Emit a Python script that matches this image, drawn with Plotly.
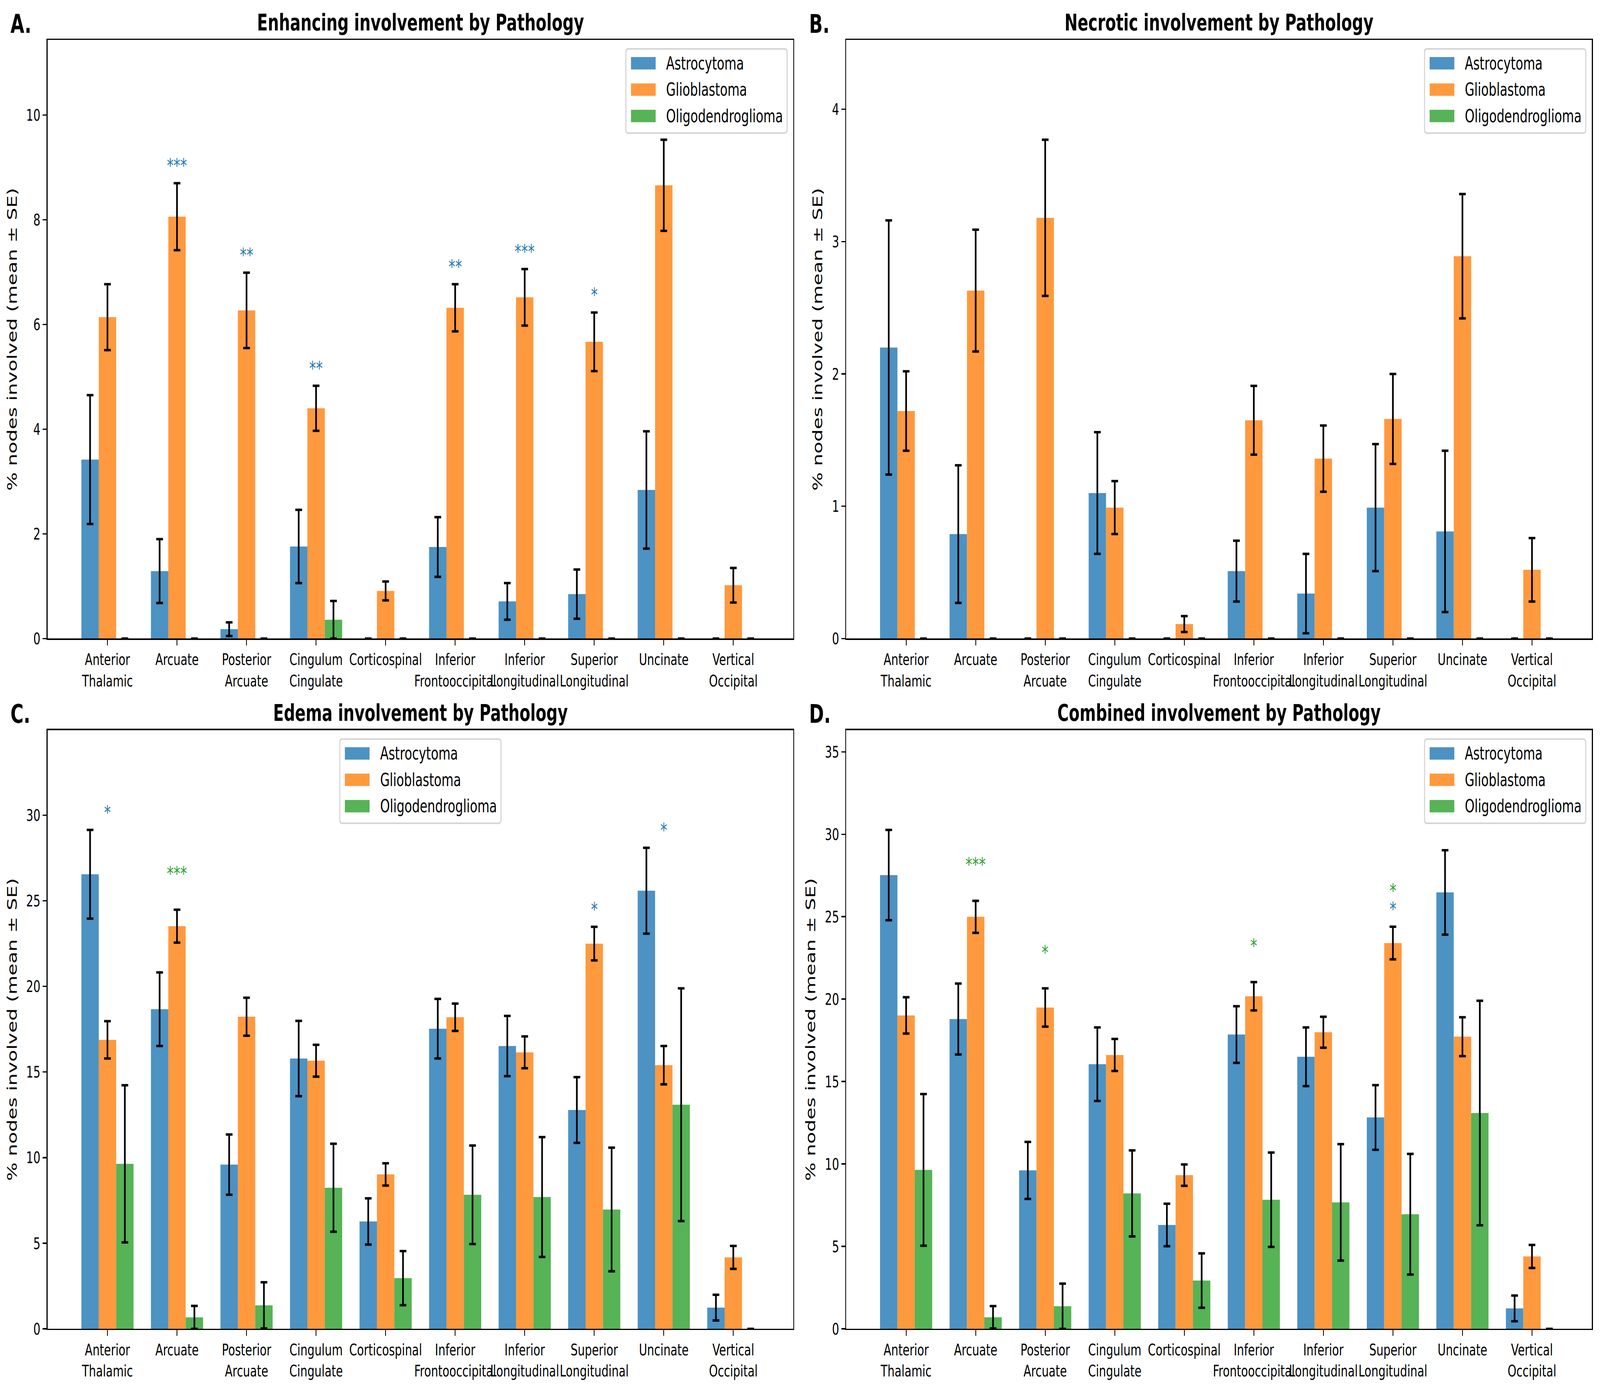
import plotly.graph_objects as go

# ---------------- data ----------------
categories = ["Anterior Thalamic", "Arcuate", "Posterior Arcuate", "Cingulum Cingulate",
              "Corticospinal", "Inferior Frontooccipital", "Inferior Longitudinal",
              "Superior Longitudinal", "Uncinate", "Vertical Occipital"]
tick_labels = ["Anterior<br>Thalamic", "Arcuate", "Posterior<br>Arcuate", "Cingulum<br>Cingulate",
               "Corticospinal", "Inferior<br>Frontooccipital", "Inferior<br>Longitudinal",
               "Superior<br>Longitudinal", "Uncinate", "Vertical<br>Occipital"]
groups = ["Astrocytoma", "Glioblastoma", "Oligodendroglioma"]

# Enhancing
enh_astro_mean = [3.42, 1.29, 0.18, 1.76, 0.0, 1.75, 0.71, 0.85, 2.84, 0.0]
enh_astro_se = [1.23, 0.61, 0.13, 0.70, 0.0, 0.57, 0.35, 0.47, 1.12, 0.0]
enh_glio_mean = [6.14, 8.06, 6.27, 4.40, 0.91, 6.32, 6.52, 5.67, 8.66, 1.02]
enh_glio_se = [0.63, 0.64, 0.72, 0.43, 0.18, 0.45, 0.54, 0.56, 0.87, 0.33]
enh_oligo_mean = [0.0, 0.0, 0.0, 0.36, 0.0, 0.0, 0.0, 0.0, 0.0, 0.0]
enh_oligo_se = [0.0, 0.0, 0.0, 0.36, 0.0, 0.0, 0.0, 0.0, 0.0, 0.0]
enh_sig_astro = ["", "***", "**", "**", "", "**", "***", "*", "", ""]
enh_sig_oligo = ["", "", "", "", "", "", "", "", "", ""]

# Necrotic
nec_astro_mean = [2.20, 0.79, 0.0, 1.10, 0.0, 0.51, 0.34, 0.99, 0.81, 0.0]
nec_astro_se = [0.96, 0.52, 0.0, 0.46, 0.0, 0.23, 0.30, 0.48, 0.61, 0.0]
nec_glio_mean = [1.72, 2.63, 3.18, 0.99, 0.11, 1.65, 1.36, 1.66, 2.89, 0.52]
nec_glio_se = [0.30, 0.46, 0.59, 0.20, 0.06, 0.26, 0.25, 0.34, 0.47, 0.24]
nec_oligo_mean = [0.0, 0.0, 0.0, 0.0, 0.0, 0.0, 0.0, 0.0, 0.0, 0.0]
nec_oligo_se = [0.0, 0.0, 0.0, 0.0, 0.0, 0.0, 0.0, 0.0, 0.0, 0.0]
nec_sig_astro = ["", "", "", "", "", "", "", "", "", ""]
nec_sig_oligo = ["", "", "", "", "", "", "", "", "", ""]

# Edema
ede_astro_mean = [26.55, 18.67, 9.59, 15.79, 6.27, 17.53, 16.52, 12.78, 25.59, 1.24]
ede_astro_se = [2.59, 2.15, 1.76, 2.20, 1.35, 1.74, 1.76, 1.92, 2.51, 0.75]
ede_glio_mean = [16.88, 23.52, 18.23, 15.66, 9.02, 18.20, 16.15, 22.50, 15.40, 4.17]
ede_glio_se = [1.09, 0.96, 1.11, 0.93, 0.65, 0.80, 0.93, 0.98, 1.12, 0.67]
ede_oligo_mean = [9.64, 0.67, 1.37, 8.24, 2.96, 7.83, 7.70, 6.97, 13.09, 0.0]
ede_oligo_se = [4.59, 0.67, 1.35, 2.57, 1.58, 2.88, 3.50, 3.61, 6.80, 0.0]
ede_sig_astro = ["*", "", "", "", "", "", "", "*", "*", ""]
ede_sig_oligo = ["", "***", "", "", "", "", "", "", "", ""]

# Combined
com_astro_mean = [27.52, 18.79, 9.61, 16.05, 6.30, 17.85, 16.50, 12.82, 26.47, 1.24]
com_astro_se = [2.74, 2.15, 1.73, 2.23, 1.29, 1.72, 1.78, 1.96, 2.56, 0.78]
com_glio_mean = [19.01, 24.99, 19.49, 16.61, 9.32, 20.17, 17.99, 23.40, 17.72, 4.39]
com_glio_se = [1.10, 0.97, 1.16, 0.97, 0.65, 0.86, 0.94, 0.99, 1.18, 0.70]
com_oligo_mean = [9.64, 0.70, 1.37, 8.21, 2.93, 7.83, 7.67, 6.95, 13.09, 0.0]
com_oligo_se = [4.60, 0.68, 1.37, 2.61, 1.65, 2.86, 3.53, 3.66, 6.81, 0.0]
com_sig_astro = ["", "", "", "", "", "", "", "*", "", ""]
com_sig_oligo = ["", "***", "*", "", "", "*", "", "*", "", ""]

# ---------------- style / layout ----------------
W, H = 5964, 3573
PT = 300 / 72.0
FONT = "DejaVu Sans"
bar_colors = ["rgba(31,119,180,0.8)", "rgba(255,127,14,0.8)", "rgba(44,160,44,0.8)"]
sig_colors = {"astro": "#1f77b4", "oligo": "#2ca02c"}

panels = [
    dict(letter="A.", title="Enhancing involvement by Pathology",
         means=[enh_astro_mean, enh_glio_mean, enh_oligo_mean],
         ses=[enh_astro_se, enh_glio_se, enh_oligo_se],
         sig_astro=enh_sig_astro, sig_oligo=enh_sig_oligo, dtick=2,
         box=(177, 103, 2957, 1646), legend="right"),
    dict(letter="B.", title="Necrotic involvement by Pathology",
         means=[nec_astro_mean, nec_glio_mean, nec_oligo_mean],
         ses=[nec_astro_se, nec_glio_se, nec_oligo_se],
         sig_astro=nec_sig_astro, sig_oligo=nec_sig_oligo, dtick=1,
         box=(3154, 103, 5934, 1646), legend="right"),
    dict(letter="C.", title="Edema involvement by Pathology",
         means=[ede_astro_mean, ede_glio_mean, ede_oligo_mean],
         ses=[ede_astro_se, ede_glio_se, ede_oligo_se],
         sig_astro=ede_sig_astro, sig_oligo=ede_sig_oligo, dtick=5,
         box=(177, 1882, 2957, 3425), legend="center"),
    dict(letter="D.", title="Combined involvement by Pathology",
         means=[com_astro_mean, com_glio_mean, com_oligo_mean],
         ses=[com_astro_se, com_glio_se, com_oligo_se],
         sig_astro=com_sig_astro, sig_oligo=com_sig_oligo, dtick=5,
         box=(3154, 1882, 5934, 3425), legend="right"),
]


def px_x(p):
    return p / W


def px_y(p):
    return 1 - p / H


fig = go.Figure()
layout = dict(
    width=W, height=H, margin=dict(l=0, r=0, t=0, b=0, pad=0),
    paper_bgcolor="white", plot_bgcolor="white",
    font=dict(family=FONT, color="black", size=10 * PT),
    barmode="group", bargap=0.25, bargroupgap=0.0, showlegend=False,
)
annotations = []
shapes = []

n = len(categories)
xrange_ = [-0.375 - 0.05 * (n - 1 + 0.75), n - 1 + 0.375 + 0.05 * (n - 1 + 0.75)]

for i, p in enumerate(panels, start=1):
    xa = "x" if i == 1 else f"x{i}"
    ya = "y" if i == 1 else f"y{i}"
    x0, y0, x1, y1 = p["box"]
    tops = [m + s for mm, ss in zip(p["means"], p["ses"]) for m, s in zip(mm, ss)]
    ymax = max(tops) * 1.2

    for g, name in enumerate(groups):
        fig.add_trace(go.Bar(
            x=categories, y=p["means"][g], name=name,
            marker=dict(color=bar_colors[g], line=dict(width=0)),
            error_y=dict(type="data", array=p["ses"][g], visible=True,
                         color="black", thickness=1.5 * PT, width=3 * PT),
            xaxis=xa, yaxis=ya, showlegend=False,
        ))

    axis_common = dict(showline=True, linecolor="black", linewidth=0.8 * PT, mirror=True,
                       ticks="outside", ticklen=3.5 * PT, tickwidth=0.8 * PT, tickcolor="black",
                       showgrid=False, zeroline=False, fixedrange=True,
                       tickfont=dict(family=FONT, size=10 * PT, color="black"))
    layout["xaxis" if i == 1 else f"xaxis{i}"] = dict(
        axis_common, domain=[px_x(x0), px_x(x1)], anchor=ya, type="category",
        categoryorder="array", categoryarray=categories,
        tickmode="array", tickvals=categories, ticktext=tick_labels, tickangle=0,
        range=xrange_)
    layout["yaxis" if i == 1 else f"yaxis{i}"] = dict(
        axis_common, domain=[px_y(y1), px_y(y0)], anchor=xa,
        range=[0, ymax], tick0=0, dtick=p["dtick"],
        title=dict(text="% nodes involved (mean ± SE)",
                   font=dict(family=FONT, size=12 * PT, color="black"), standoff=20))

    # title
    annotations.append(dict(text="<b>" + p["title"] + "</b>", xref="paper", yref="paper",
                            x=px_x((x0 + x1) / 2), y=px_y(y0 - 8), xanchor="center",
                            yanchor="bottom", showarrow=False,
                            font=dict(family=FONT, size=14 * PT, color="black")))
    # panel letter
    aw = x1 - x0
    annotations.append(dict(text="<b>" + p["letter"] + "</b>", xref="paper", yref="paper",
                            x=px_x(x0 - 0.05 * aw - 1), y=px_y(y0 - 83), xanchor="left",
                            yanchor="top", showarrow=False,
                            font=dict(family=FONT, size=16 * PT, color="black")))

    # significance markers
    for k, cat in enumerate(categories):
        top = max(p["means"][g][k] + p["ses"][g][k] for g in range(3))
        if p["sig_astro"][k]:
            annotations.append(dict(text=p["sig_astro"][k], xref=xa, yref=ya, x=cat,
                                    y=top + 0.037 * ymax, xanchor="center", yanchor="middle",
                                    yshift=-12, showarrow=False,
                                    font=dict(family=FONT, size=12 * PT, color=sig_colors["astro"])))
        if p["sig_oligo"][k]:
            annotations.append(dict(text=p["sig_oligo"][k], xref=xa, yref=ya, x=cat,
                                    y=top + 0.068 * ymax, xanchor="center", yanchor="middle",
                                    yshift=-12, showarrow=False,
                                    font=dict(family=FONT, size=12 * PT, color=sig_colors["oligo"])))

    # legend (matplotlib-style box)
    lw_, lh_ = 601, 217
    if p["legend"] == "right":
        lx1 = x1 - 23
        lx0 = lx1 - lw_
    else:
        lx0 = (x0 + x1) / 2 - lw_ / 2
        lx1 = lx0 + lw_
    ly0 = y0 + 23
    ly1 = ly0 + lh_
    r = 9
    pts = (f"M {px_x(lx0 + r)},{px_y(ly0)} L {px_x(lx1 - r)},{px_y(ly0)} "
           f"Q {px_x(lx1)},{px_y(ly0)} {px_x(lx1)},{px_y(ly0 + r)} "
           f"L {px_x(lx1)},{px_y(ly1 - r)} Q {px_x(lx1)},{px_y(ly1)} {px_x(lx1 - r)},{px_y(ly1)} "
           f"L {px_x(lx0 + r)},{px_y(ly1)} Q {px_x(lx0)},{px_y(ly1)} {px_x(lx0)},{px_y(ly1 - r)} "
           f"L {px_x(lx0)},{px_y(ly0 + r)} Q {px_x(lx0)},{px_y(ly0)} {px_x(lx0 + r)},{px_y(ly0)} Z")
    shapes.append(dict(type="path", path=pts, xref="paper", yref="paper",
                       fillcolor="rgba(255,255,255,0.8)",
                       line=dict(color="rgba(204,204,204,0.8)", width=1.0 * PT), layer="above"))
    for g, name in enumerate(groups):
        cy = ly0 + 37 + 68 * g
        shapes.append(dict(type="rect", xref="paper", yref="paper",
                           x0=px_x(lx0 + 19), x1=px_x(lx0 + 111),
                           y0=px_y(cy - 16), y1=px_y(cy + 16),
                           fillcolor=bar_colors[g], line=dict(width=0), layer="above"))
        annotations.append(dict(text=name, xref="paper", yref="paper",
                                x=px_x(lx0 + 148), y=px_y(cy), xanchor="left", yanchor="middle",
                                showarrow=False,
                                font=dict(family=FONT, size=11 * PT, color="black")))

layout["annotations"] = annotations
layout["shapes"] = shapes
fig.update_layout(**layout)

# keep the whole fixed-size figure inside the browser viewport
fit_js = """
(function() {
  var gd = document.getElementById('{plot_id}');
  document.documentElement.style.margin = '0';
  document.documentElement.style.overflow = 'hidden';
  document.body.style.margin = '0';
  document.body.style.overflow = 'hidden';
  function fit() {
    var sx = window.innerWidth / %d, sy = window.innerHeight / %d;
    if (!(sx > 0) || !(sy > 0)) { return; }
    gd.style.transformOrigin = '0 0';
    gd.style.transform = 'scale(' + sx + ',' + sy + ')';
  }
  fit();
  window.addEventListener('resize', fit);
})();
""" % (W, H)

fig.write_html("out.html", include_plotlyjs=True, full_html=True, post_script=fit_js,
               config={"displayModeBar": False, "staticPlot": True})
